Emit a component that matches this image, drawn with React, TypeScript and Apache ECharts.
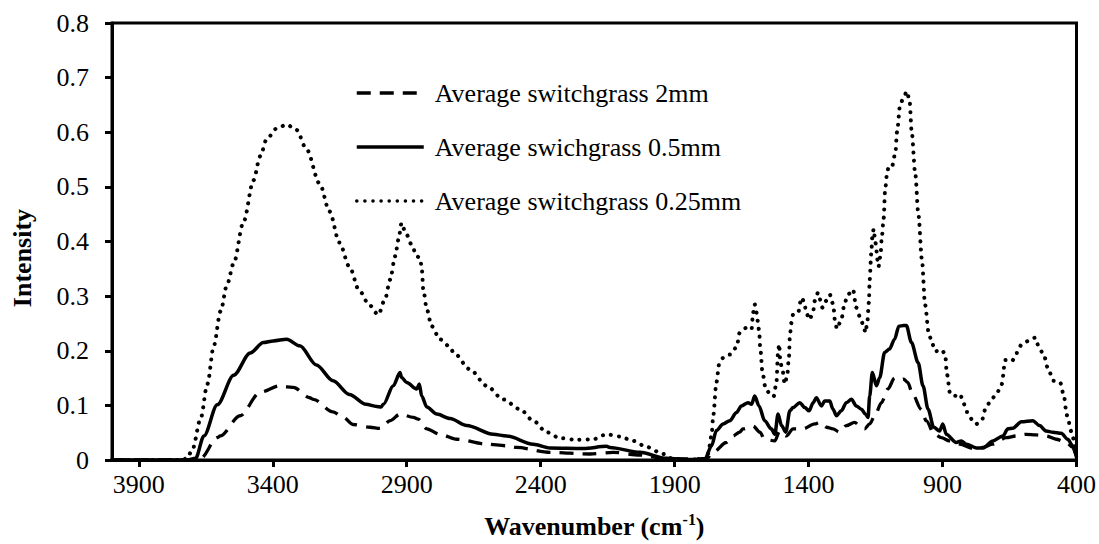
import React, { useEffect, useRef } from "react";
import * as echarts from "echarts";

// ---- Data (wavenumber cm-1, intensity) ----
const seriesNames = [
  "Average switchgrass 2mm",
  "Average swichgrass 0.5mm",
  "Average switchgrass 0.25mm",
];

const wn2mm = [4000, 3700, 3669, 3607, 3596, 3522, 3447, 3373, 3347, 3323, 3262, 3248, 3175, 3136, 3101, 3037, 2999, 2962, 2925, 2875, 2857, 2825, 2776, 2713, 2602, 2527, 2490, 2365, 2216, 2129, 2030, 1930, 1781, 1756, 1707, 1682, 1657, 1645, 1607, 1582, 1564, 1526, 1508, 1483, 1458, 1421, 1377, 1358, 1333, 1309, 1284, 1259, 1228, 1209, 1191, 1172, 1153, 1128, 1104, 1079, 1061, 1045, 1030, 1011, 980, 961, 930, 905, 874, 836, 787, 749, 712, 662, 625, 588, 551, 513, 476, 438, 414, 400];
const int2mm = [0, 0, 0.003, 0.041, 0.044, 0.081, 0.124, 0.136, 0.134, 0.133, 0.114, 0.111, 0.088, 0.078, 0.065, 0.06, 0.058, 0.072, 0.084, 0.078, 0.075, 0.057, 0.047, 0.038, 0.029, 0.026, 0.023, 0.014, 0.011, 0.014, 0.009, 0.002, 0.002, 0.014, 0.032, 0.044, 0.051, 0.057, 0.062, 0.051, 0.038, 0.035, 0.053, 0.044, 0.057, 0.057, 0.066, 0.069, 0.06, 0.057, 0.051, 0.063, 0.069, 0.063, 0.057, 0.066, 0.081, 0.105, 0.13, 0.15, 0.147, 0.148, 0.142, 0.12, 0.093, 0.072, 0.047, 0.041, 0.035, 0.029, 0.021, 0.023, 0.029, 0.041, 0.044, 0.047, 0.046, 0.044, 0.038, 0.032, 0.023, 0.005];

const wn05mm = [4000, 3720, 3688, 3657, 3607, 3546, 3484, 3435, 3398, 3348, 3299, 3237, 3175, 3114, 3052, 3012, 2996, 2987, 2950, 2925, 2919, 2900, 2863, 2853, 2844, 2825, 2788, 2738, 2676, 2577, 2527, 2428, 2365, 2241, 2154, 2142, 2030, 1930, 1843, 1787, 1762, 1744, 1719, 1694, 1669, 1651, 1626, 1613, 1601, 1585, 1564, 1539, 1526, 1514, 1501, 1485, 1470, 1458, 1433, 1414, 1398, 1383, 1371, 1352, 1340, 1321, 1309, 1296, 1278, 1259, 1240, 1222, 1203, 1188, 1178, 1172, 1162, 1147, 1135, 1116, 1098, 1079, 1063, 1045, 1035, 1016, 991, 973, 954, 933, 911, 899, 886, 849, 830, 811, 774, 749, 712, 675, 656, 638, 606, 563, 538, 513, 488, 457, 433, 414, 400];
const int05mm = [0, 0, 0.003, 0.044, 0.101, 0.155, 0.196, 0.215, 0.218, 0.221, 0.209, 0.174, 0.145, 0.12, 0.102, 0.098, 0.097, 0.102, 0.136, 0.16, 0.151, 0.142, 0.13, 0.139, 0.117, 0.097, 0.084, 0.076, 0.063, 0.047, 0.044, 0.029, 0.022, 0.021, 0.025, 0.023, 0.014, 0.003, 0.001, 0.002, 0.026, 0.054, 0.066, 0.072, 0.087, 0.099, 0.105, 0.102, 0.117, 0.099, 0.072, 0.057, 0.047, 0.084, 0.063, 0.051, 0.09, 0.096, 0.105, 0.096, 0.09, 0.105, 0.114, 0.099, 0.108, 0.108, 0.093, 0.081, 0.09, 0.105, 0.111, 0.099, 0.093, 0.084, 0.078, 0.117, 0.16, 0.136, 0.15, 0.197, 0.203, 0.221, 0.245, 0.246, 0.246, 0.215, 0.178, 0.136, 0.093, 0.06, 0.053, 0.066, 0.047, 0.032, 0.035, 0.029, 0.022, 0.022, 0.035, 0.044, 0.057, 0.058, 0.07, 0.072, 0.063, 0.053, 0.051, 0.049, 0.038, 0.026, 0.005];

const wn025mm = [4000, 3740, 3720, 3700, 3669, 3644, 3620, 3595, 3570, 3546, 3509, 3472, 3447, 3422, 3385, 3348, 3311, 3274, 3225, 3188, 3151, 3114, 3077, 3040, 3006, 2981, 2962, 2943, 2931, 2919, 2906, 2881, 2863, 2850, 2844, 2838, 2825, 2807, 2776, 2738, 2726, 2664, 2602, 2540, 2477, 2428, 2378, 2328, 2267, 2204, 2154, 2104, 2055, 2005, 1943, 1906, 1850, 1790, 1775, 1762, 1756, 1744, 1734, 1719, 1694, 1669, 1657, 1632, 1613, 1607, 1601, 1595, 1585, 1580, 1572, 1560, 1539, 1530, 1520, 1514, 1510, 1505, 1498, 1489, 1480, 1473, 1470, 1464, 1458, 1439, 1427, 1414, 1411, 1396, 1383, 1377, 1365, 1348, 1336, 1321, 1308, 1302, 1294, 1278, 1265, 1253, 1234, 1222, 1209, 1194, 1188, 1181, 1175, 1172, 1166, 1162, 1157, 1151, 1139, 1132, 1126, 1120, 1114, 1107, 1101, 1089, 1076, 1070, 1058, 1045, 1033, 1023, 1015, 1002, 990, 977, 965, 952, 940, 927, 903, 890, 884, 871, 846, 834, 822, 809, 784, 774, 753, 741, 722, 697, 679, 666, 641, 623, 604, 579, 554, 542, 523, 504, 486, 461, 448, 436, 418, 405, 400];
const int025mm = [0, 0, 0.003, 0.019, 0.076, 0.139, 0.209, 0.272, 0.322, 0.36, 0.436, 0.512, 0.556, 0.588, 0.607, 0.614, 0.604, 0.569, 0.506, 0.455, 0.398, 0.354, 0.31, 0.284, 0.266, 0.294, 0.33, 0.373, 0.403, 0.434, 0.418, 0.394, 0.373, 0.37, 0.352, 0.312, 0.276, 0.245, 0.221, 0.207, 0.197, 0.166, 0.136, 0.111, 0.093, 0.072, 0.051, 0.04, 0.037, 0.038, 0.047, 0.043, 0.035, 0.024, 0.011, 0.002, 0, 0.002, 0.012, 0.045, 0.081, 0.142, 0.175, 0.187, 0.193, 0.206, 0.233, 0.242, 0.239, 0.27, 0.285, 0.27, 0.239, 0.203, 0.16, 0.13, 0.117, 0.117, 0.142, 0.197, 0.212, 0.178, 0.166, 0.139, 0.154, 0.19, 0.227, 0.251, 0.266, 0.27, 0.297, 0.288, 0.272, 0.257, 0.272, 0.291, 0.306, 0.279, 0.291, 0.303, 0.285, 0.257, 0.24, 0.257, 0.288, 0.303, 0.312, 0.279, 0.263, 0.245, 0.233, 0.251, 0.288, 0.33, 0.379, 0.409, 0.423, 0.398, 0.354, 0.373, 0.411, 0.442, 0.496, 0.525, 0.537, 0.537, 0.562, 0.6, 0.651, 0.664, 0.675, 0.657, 0.6, 0.525, 0.449, 0.367, 0.284, 0.234, 0.215, 0.199, 0.202, 0.193, 0.158, 0.12, 0.117, 0.12, 0.104, 0.088, 0.07, 0.066, 0.073, 0.092, 0.107, 0.123, 0.139, 0.183, 0.181, 0.196, 0.212, 0.218, 0.224, 0.209, 0.193, 0.164, 0.145, 0.142, 0.12, 0.082, 0.051, 0.025, 0.015];

const xMin = 400;
const xMax = 4000;
const xInterval = 500;
const yMin = 0;
const yMax = 0.8;
const yInterval = 0.1;

const FONT = '"Liberation Serif", "Times New Roman", serif';

function pairs(xs: number[], ys: number[]) {
  return xs.map((x, i) => [x, ys[i]]);
}

export default function App() {
  const ref = useRef<HTMLDivElement>(null);

  useEffect(() => {
    if (!ref.current) return;
    const chart = echarts.init(ref.current, undefined, { renderer: "svg" });
    const lineBase = { type: "line", symbol: "none", showSymbol: false, smooth: 0.3, smoothMonotone: "x", z: 3 };
    chart.setOption({
      animation: false,
      backgroundColor: "#ffffff",
      grid: {
        left: 112,
        right: 22,
        top: 23,
        bottom: 83,
        show: true,
        borderColor: "#000",
        borderWidth: 3,
        containLabel: false,
      },
      legend: {
        orient: "vertical",
        left: 355,
        top: 80,
        padding: 0,
        itemWidth: 67,
        itemHeight: 14,
        itemGap: 28,
        selectedMode: false,
        itemStyle: { opacity: 0 },
        lineStyle: { width: 3.5 },
        textStyle: { fontFamily: FONT, fontSize: 26, color: "#000", padding: [0, 0, 0, 6] },
        data: seriesNames,
      },
      xAxis: {
        type: "value",
        inverse: true,
        min: xMin,
        max: xMax,
        interval: xInterval,
        splitLine: { show: false },
        axisLine: { show: true, onZero: false, lineStyle: { color: "#000", width: 3 } },
        axisTick: { show: true, length: 7, lineStyle: { color: "#000", width: 3 } },
        axisLabel: {
          color: "#000",
          fontFamily: FONT,
          fontSize: 26,
          margin: 11,
          showMaxLabel: false,
          formatter: (v: number) => String(v),
        },
        name: "{b|Wavenumber (cm}{s|-1}{b|)}",
        nameLocation: "middle",
        nameGap: 51,
        nameTextStyle: {
          rich: {
            b: { fontFamily: FONT, fontSize: 26, fontWeight: "bold", color: "#000", lineHeight: 30 },
            s: { fontFamily: FONT, fontSize: 16, fontWeight: "bold", color: "#000", verticalAlign: "top", lineHeight: 18 },
          },
        },
      },
      yAxis: {
        type: "value",
        min: yMin,
        max: yMax,
        interval: yInterval,
        splitLine: { show: false },
        axisLine: { show: true, lineStyle: { color: "#000", width: 3 } },
        axisTick: { show: true, length: 7, lineStyle: { color: "#000", width: 3 } },
        axisLabel: {
          color: "#000",
          fontFamily: FONT,
          fontSize: 26,
          margin: 23,
          formatter: (v: number) => (v === 0 ? "0" : v.toFixed(1)),
        },
      },
      graphic: [
        {
          type: "text",
          x: 22,
          y: 258,
          rotation: Math.PI / 2,
          style: {
            text: "Intensity",
            fontFamily: FONT,
            fontSize: 26,
            fontWeight: "bold",
            fill: "#000",
            align: "center",
            verticalAlign: "middle",
            textAlign: "center",
            textVerticalAlign: "middle",
          },
        },
      ],
      series: [
        {
          ...lineBase,
          name: seriesNames[0],
          data: pairs(wn2mm, int2mm),
          lineStyle: { color: "#000", width: 3.3, type: [14, 9] },
          itemStyle: { color: "#000" },
        },
        {
          ...lineBase,
          name: seriesNames[1],
          data: pairs(wn05mm, int05mm),
          lineStyle: { color: "#000", width: 3.5, type: "solid" },
          itemStyle: { color: "#000" },
        },
        {
          ...lineBase,
          name: seriesNames[2],
          data: pairs(wn025mm, int025mm),
          lineStyle: { color: "#000", width: 4, type: [0.1, 8], cap: "round" },
          itemStyle: { color: "#000" },
        },
      ],
    });
    return () => chart.dispose();
  }, []);

  return (
    <div
      ref={ref}
      style={{ position: "fixed", left: 0, top: 0, width: 1099, height: 544, background: "#fff" }}
    />
  );
}
